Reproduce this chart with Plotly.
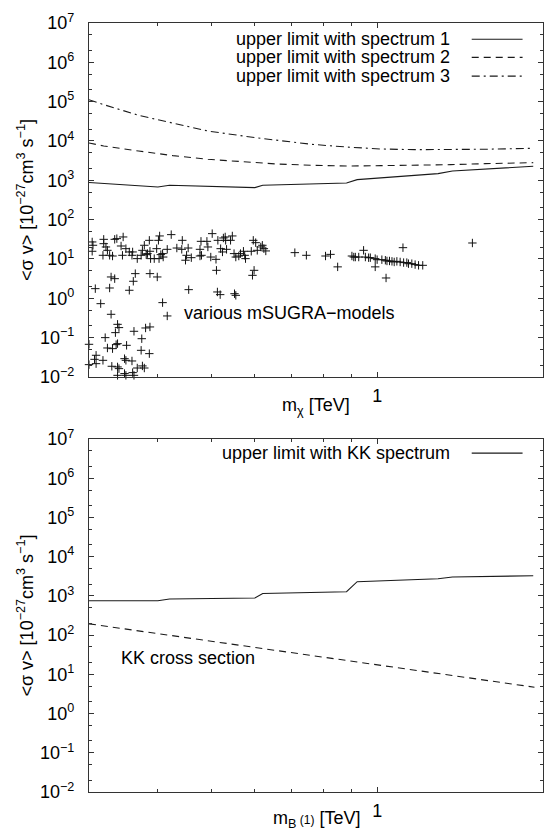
import plotly.graph_objects as go

# ---------------- data ----------------
# upper limits (top panel)
spec1_x = [0.3, 0.4, 0.42, 0.6, 0.62, 0.88, 0.92, 1.29, 1.37, 1.92]
spec1_y = [880, 676, 747, 651, 747, 855, 1040, 1479, 1727, 2270]

spec2_x = [0.3, 0.319, 0.369, 0.426, 0.493, 0.569, 0.658, 0.761, 0.879, 1.016, 1.17, 1.36, 1.57, 1.92]
spec2_y = [8900, 7460, 5570, 4240, 3420, 2930, 2600, 2410, 2310, 2360, 2410, 2500, 2650, 2810]

spec3_x = [0.3, 0.319, 0.369, 0.399, 0.493, 0.599, 0.761, 0.879, 1.016, 1.17, 1.36, 1.57, 1.92]
spec3_y = [112000, 84000, 45000, 34900, 17900, 12200, 8230, 7030, 6260, 6020, 6020, 6170, 6520]

# mSUGRA models (scatter)
msugra_x = [
    0.304, 0.305, 0.304, 0.319, 0.319, 0.322, 0.324, 0.334, 0.337, 0.346,
    0.318, 0.327, 0.331, 0.343, 0.345, 0.350, 0.355, 0.359, 0.360, 0.367,
    0.373, 0.375, 0.378, 0.381, 0.383, 0.386, 0.387, 0.388, 0.394, 0.398,
    0.401, 0.403, 0.402, 0.405, 0.408, 0.409, 0.416, 0.329, 0.334, 0.364,
    0.361, 0.387, 0.399, 0.308, 0.327, 0.355, 0.315, 0.408, 0.423, 0.433,
    0.442, 0.454, 0.443, 0.451, 0.449, 0.460, 0.477, 0.479, 0.491, 0.493,
    0.480, 0.477, 0.502, 0.499, 0.510, 0.514, 0.520, 0.524, 0.526, 0.531,
    0.530, 0.542, 0.546, 0.533, 0.550, 0.554, 0.561, 0.565, 0.572, 0.575,
    0.577, 0.591, 0.596, 0.602, 0.606, 0.615, 0.619, 0.623, 0.628, 0.511,
    0.598, 0.594, 0.455, 0.513, 0.519, 0.551, 0.554, 0.709, 0.744, 0.806,
    0.823, 0.848, 0.900, 0.907, 0.913, 0.926, 0.945, 0.952, 0.965, 0.972,
    0.992, 1.000, 0.992, 1.020, 1.035, 1.042, 1.053, 1.064, 1.074, 1.086,
    1.101, 1.117, 1.132, 1.140, 1.156, 1.172, 1.189, 1.210, 1.114, 1.038,
    1.489, 0.329, 0.416, 0.338, 0.340, 0.335, 0.362, 0.380, 0.387, 0.321,
    0.374, 0.300, 0.336, 0.338, 0.351, 0.324, 0.331, 0.373, 0.386, 0.309,
    0.307, 0.318, 0.300, 0.309, 0.348, 0.350, 0.359, 0.330, 0.338, 0.340,
    0.367, 0.375, 0.378, 0.338, 0.348, 0.350, 0.360, 0.362,
]
msugra_y = [
    27.1, 22.3, 15.7, 31.6, 24.5, 20.2, 16.6, 31.6, 32.9, 36.3,
    12.4, 12.4, 11.9, 21.4, 12.4, 18.3, 15.1, 12.4, 15.1, 10.2,
    12.4, 16.6, 22.3, 12.9, 13.7, 29.8, 15.7, 10.2, 10.2, 18.3,
    29.8, 38.5, 10.2, 12.9, 13.7, 11.2, 17.6, 3.49, 3.16, 4.24,
    2.71, 4.24, 3.49, 1.76, 1.83, 1.60, 0.731, 0.776, 41.6, 19.0,
    17.6, 19.0, 29.8, 12.4, 9.3, 10.8, 17.6, 28.1, 28.1, 20.2,
    12.4, 11.9, 44.1, 11.2, 9.8, 29.8, 18.3, 15.1, 34.2, 29.8,
    36.3, 29.8, 38.5, 17.6, 13.7, 11.2, 11.9, 13.7, 15.7, 12.4,
    10.2, 15.7, 29.8, 26.0, 16.6, 20.2, 22.3, 18.3, 16.0, 5.15,
    5.15, 3.84, 1.66, 1.45, 1.24, 1.31, 1.19, 14.5, 12.4, 11.9,
    13.1, 6.3, 11.9, 11.2, 11.2, 11.2, 16.6, 11.2, 10.8, 10.8,
    10.2, 9.6, 6.3, 9.6, 9.3, 8.9, 8.9, 8.7, 8.4, 8.7,
    8.4, 8.1, 8.1, 7.6, 7.6, 7.2, 6.9, 6.9, 19.4, 3.29,
    25.5, 0.392, 0.356, 0.218, 0.180, 0.134, 0.145, 0.176, 0.187, 0.100,
    0.094, 0.0677, 0.0664, 0.0704, 0.0638, 0.0546, 0.0525, 0.0476, 0.0392, 0.0356,
    0.0281, 0.0265, 0.0206, 0.0218, 0.0292, 0.0265, 0.0255, 0.0187, 0.0180, 0.0163,
    0.0169, 0.0191, 0.0169, 0.0110, 0.0122, 0.0110, 0.0129, 0.0110,
]

# bottom panel
kk_x = [0.3, 0.4, 0.42, 0.6, 0.62, 0.88, 0.92, 1.29, 1.37, 1.92]
kk_y = [754, 754, 832, 883, 1156, 1278, 2300, 2744, 3025, 3270]

kkxs_x = [0.3, 0.5, 0.7, 1.0, 1.4, 1.93]
kkxs_y = [194, 70, 35.7, 17.5, 8.9, 4.7]

legend_top = ["upper limit with spectrum 1", "upper limit with spectrum 2", "upper limit with spectrum 3"]
legend_bot = ["upper limit with KK spectrum"]

y_decades = [-2, -1, 0, 1, 2, 3, 4, 5, 6, 7]
x_major = [1, 2]
x_major_text = ["1", ""]
x_minor = [0.3, 0.4, 0.5, 0.6, 0.7, 0.8, 0.9]

# ---------------- styling ----------------
FONT = "Liberation Sans, Arial, Helvetica, sans-serif"
LC = "#1a1a1a"
AX = "#333333"
DASH2 = "7px,5px"
DASH3 = "8px,4px,2px,4px"
TF = 18   # tick / title font size
KF = 18   # key / label font size
YTITLE = "&lt;σ v&gt; [10<sup>\u221227</sup>cm<sup>3</sup> s<sup>\u22121</sup>]"

fig = go.Figure()

line_kw = dict(mode="lines", showlegend=False, hoverinfo="skip")
fig.add_trace(go.Scatter(x=spec1_x, y=spec1_y, line=dict(color=LC, width=1.1), xaxis="x", yaxis="y", **line_kw))
fig.add_trace(go.Scatter(x=spec2_x, y=spec2_y, line=dict(color=LC, width=1.1, dash=DASH2), xaxis="x", yaxis="y", **line_kw))
fig.add_trace(go.Scatter(x=spec3_x, y=spec3_y, line=dict(color=LC, width=1.1, dash=DASH3), xaxis="x", yaxis="y", **line_kw))
fig.add_trace(go.Scatter(x=msugra_x, y=msugra_y, mode="markers", showlegend=False, cliponaxis=False,
                         marker=dict(symbol="cross-thin", size=6, line=dict(color="#111", width=1)),
                         xaxis="x", yaxis="y"))

fig.add_trace(go.Scatter(x=kk_x, y=kk_y, line=dict(color=LC, width=1.1), xaxis="x2", yaxis="y2", **line_kw))
fig.add_trace(go.Scatter(x=kkxs_x, y=kkxs_y, line=dict(color=LC, width=1.1, dash=DASH2), xaxis="x2", yaxis="y2", **line_kw))

ytickvals = [10.0 ** d for d in y_decades]
yticktext = ["10<sup>%s</sup>" % (str(d).replace("-", "\u2212")) for d in y_decades]
yminor = []
for d in y_decades[:-1]:
    yminor += [2 * 10.0 ** d, 5 * 10.0 ** d]

def xaxis(anchor):
    return dict(
        type="log", range=[-0.5229, 0.30103], domain=[0, 1], anchor=anchor,
        tickmode="array", tickvals=x_major, ticktext=x_major_text,
        ticks="inside", ticklen=5, tickwidth=1, tickcolor=AX,
        minor=dict(tickmode="array", tickvals=x_minor, ticks="inside", ticklen=3, tickcolor=AX),
        showline=True, linecolor=AX, linewidth=1.2, mirror="allticks",
        showgrid=False, zeroline=False, ticklabelstandoff=2,
        tickfont=dict(family=FONT, size=TF, color="#000"),
    )

def yaxis(anchor, domain):
    return dict(
        type="log", range=[-2, 7], domain=domain, anchor=anchor,
        tickmode="array", tickvals=ytickvals, ticktext=yticktext,
        ticks="inside", ticklen=5, tickwidth=1, tickcolor=AX,
        minor=dict(tickmode="array", tickvals=yminor, ticks="inside", ticklen=3, tickcolor=AX),
        showline=True, linecolor=AX, linewidth=1.2, mirror="allticks",
        showgrid=False, zeroline=False, ticklabelstandoff=10,
        tickfont=dict(family=FONT, size=TF, color="#000"),
    )

fig.update_layout(
    width=545, height=835,
    margin=dict(l=89, r=2, t=23, b=43),
    paper_bgcolor="white", plot_bgcolor="white",
    font=dict(family=FONT, size=TF, color="#000"),
    xaxis=xaxis("y"),
    yaxis=yaxis("x", [0.5397, 1.0]),
    xaxis2=xaxis("y2"),
    yaxis2=yaxis("x2", [0.0, 0.459]),
    showlegend=False,
)

# manual gnuplot-style key: text right-aligned, sample line on the right
ann = []
shapes = []
top_rows = [0.954, 0.903, 0.850]
dashes = ["solid", DASH2, DASH3]
for txt, yy, dd in zip(legend_top, top_rows, dashes):
    ann.append(dict(text=txt, xref="x domain", yref="y domain", x=0.80, y=yy,
                    xanchor="right", yanchor="middle", showarrow=False,
                    font=dict(family=FONT, size=KF, color="#000")))
    shapes.append(dict(type="line", xref="x domain", yref="y domain", x0=0.843, x1=0.955, y0=yy, y1=yy,
                       line=dict(color=LC, width=1.1, dash=dd)))
for txt in legend_bot:
    ann.append(dict(text=txt, xref="x2 domain", yref="y2 domain", x=0.80, y=0.960,
                    xanchor="right", yanchor="middle", showarrow=False,
                    font=dict(family=FONT, size=KF, color="#000")))
    shapes.append(dict(type="line", xref="x2 domain", yref="y2 domain", x0=0.843, x1=0.955, y0=0.960, y1=0.960,
                       line=dict(color=LC, width=1.1)))

# y-axis titles (rotated, left of each panel)
for xr, yr in [("x domain", "y domain"), ("x2 domain", "y2 domain")]:
    ann.append(dict(text=YTITLE, xref=xr, yref=yr, x=0, y=0.5, textangle=-90,
                    xanchor="center", yanchor="middle", xshift=-63, showarrow=False,
                    font=dict(family=FONT, size=TF, color="#000")))

# x-axis titles (placed just below each panel)
ann.append(dict(text="m<sub>χ</sub> [TeV]", xref="x domain", yref="y domain", x=0.5, y=0,
                xanchor="center", yanchor="middle", yshift=-30, showarrow=False,
                font=dict(family=FONT, size=TF, color="#000")))
ann.append(dict(text="m<sub>B</sub><span style='font-size:12px'> (1)</span> [TeV]",
                xref="x2 domain", yref="y2 domain", x=0.5, y=0,
                xanchor="center", yanchor="middle", yshift=-27, showarrow=False,
                font=dict(family=FONT, size=TF, color="#000")))

ann.append(dict(text="various mSUGRA\u2212models", xref="x", yref="y", x=-0.3538, y=-0.381,
                xanchor="left", yanchor="middle", showarrow=False,
                font=dict(family=FONT, size=KF, color="#000")))
ann.append(dict(text="KK cross section", xref="x2", yref="y2", x=-0.468, y=1.416,
                xanchor="left", yanchor="middle", showarrow=False,
                font=dict(family=FONT, size=KF, color="#000")))

fig.update_layout(annotations=ann, shapes=shapes)

fig.write_html("out.html", config={"displayModeBar": False},
               post_script="document.body.style.margin='0';document.body.style.padding='0';")
